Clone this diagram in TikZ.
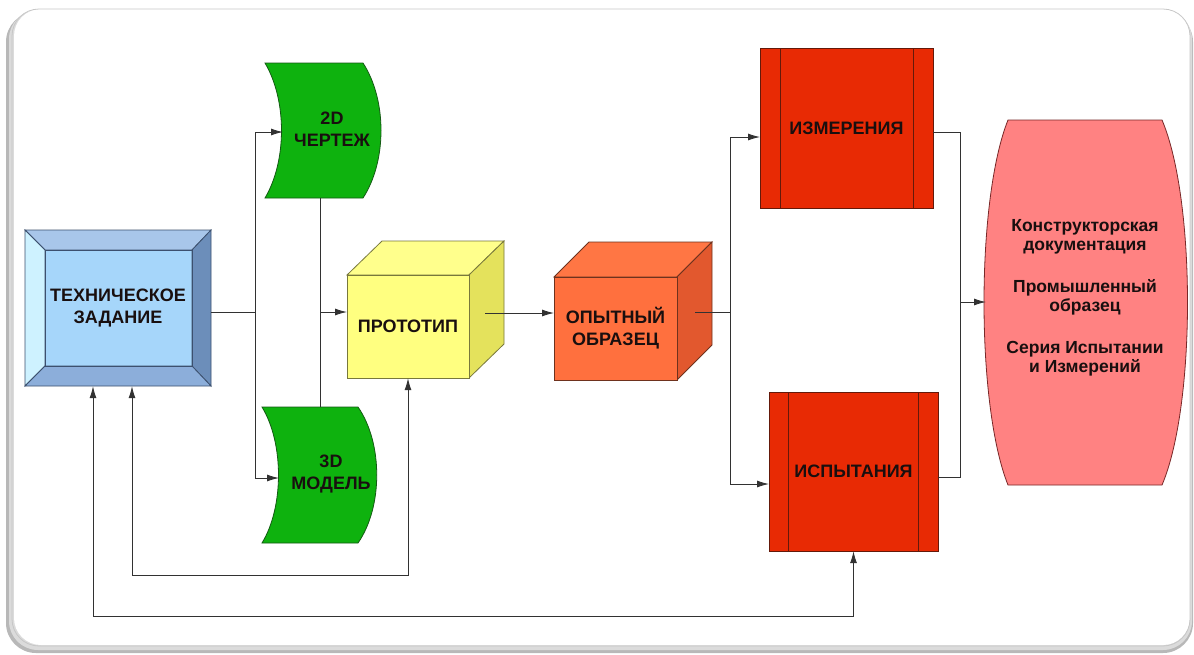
\documentclass[tikz,border=0pt]{standalone}
\usepackage{fontspec}
\setmainfont{Liberation Sans}
\usetikzlibrary{arrows.meta,calc}
\definecolor{lineC}{RGB}{50,50,50}
\definecolor{tzFace}{RGB}{166,214,250}
\definecolor{tzTop}{RGB}{168,198,234}
\definecolor{tzLeft}{RGB}{206,242,255}
\definecolor{tzRight}{RGB}{108,142,186}
\definecolor{tzBot}{RGB}{140,174,218}
\definecolor{tzLine}{RGB}{60,80,110}
\definecolor{grn}{RGB}{14,178,14}
\definecolor{grnLine}{RGB}{20,90,20}
\definecolor{yelF}{RGB}{255,255,128}
\definecolor{yelT}{RGB}{255,255,140}
\definecolor{yelS}{RGB}{228,226,92}
\definecolor{yelLine}{RGB}{120,120,60}
\definecolor{orF}{RGB}{255,112,62}
\definecolor{orT}{RGB}{255,118,68}
\definecolor{orS}{RGB}{226,88,46}
\definecolor{orLine}{RGB}{110,50,30}
\definecolor{redF}{RGB}{232,42,4}
\definecolor{redLine}{RGB}{100,25,10}
\definecolor{pinkF}{RGB}{255,130,130}
\definecolor{pinkLine}{RGB}{120,40,40}
\definecolor{txt}{RGB}{25,15,15}
\begin{document}
\begin{tikzpicture}[x=1pt,y=-1pt,
  conn/.style={draw=lineC, line width=0.9pt},
  arr/.style={conn, -{Latex[length=12pt,width=7pt]}},
  darr/.style={conn, {Latex[length=12pt,width=7pt]}-{Latex[length=12pt,width=7pt]}},
  lbl/.style={font=\bfseries\fontsize{18}{22}\selectfont, text=txt, align=center, inner sep=0pt},
  plbl/.style={font=\bfseries\fontsize{17.5}{19.5}\selectfont, text=txt, align=center, inner sep=0pt}
]
\useasboundingbox (0,0) rectangle (1194,654);
% frame
\fill[white] (0,0) rectangle (1194,654);
\fill[black!28, rounded corners=30pt] (6,12) rectangle (1193,653);
\fill[black!14, rounded corners=29pt] (9,10) rectangle (1192,650);
\fill[white, rounded corners=27pt] (14,9) rectangle (1190,645);
\draw[black!22, line width=0.8pt, rounded corners=27pt] (12,9) rectangle (1190,646);

% ---- ТЕХНИЧЕСКОЕ ЗАДАНИЕ (bevel box)
\fill[tzFace] (45,250) rectangle (192,366);
\filldraw[fill=tzTop, draw=tzLine, line width=0.8pt] (25,230) -- (211,230) -- (192,250) -- (45,250) -- cycle;
\filldraw[fill=tzLeft, draw=tzLine, line width=0.8pt] (25,230) -- (45,250) -- (45,366) -- (25,386) -- cycle;
\filldraw[fill=tzRight, draw=tzLine, line width=0.8pt] (211,230) -- (211,386) -- (192,366) -- (192,250) -- cycle;
\filldraw[fill=tzBot, draw=tzLine, line width=0.8pt] (25,386) -- (211,386) -- (192,366) -- (45,366) -- cycle;
\draw[tzLine, line width=0.8pt] (45,250) rectangle (192,366);
\node[lbl, minimum width=186pt, minimum height=156pt] (tz) at (118,308) {ТЕХНИЧЕСКОЕ\\ЗАДАНИЕ};

% ---- 2D ЧЕРТЕЖ
\filldraw[fill=grn, draw=grnLine, line width=0.8pt] (265,63) -- (363,63) .. controls (387,100) and (387,161) .. (363,198) -- (265,198) .. controls (287,161) and (287,100) .. (265,63) -- cycle;
\node[lbl, minimum width=116pt, minimum height=135pt] (d2) at (332,129) {2D\\ЧЕРТЕЖ};
% ---- 3D МОДЕЛЬ
\filldraw[fill=grn, draw=grnLine, line width=0.8pt] (262,407) -- (358,407) .. controls (383,443) and (383,507) .. (358,543) -- (262,543) .. controls (284,507) and (284,443) .. (262,407) -- cycle;
\node[lbl, minimum width=115pt, minimum height=136pt] (d3) at (331,474) {3D\\МОДЕЛЬ};

% ---- ПРОТОТИП (cube)
\filldraw[fill=yelT, draw=yelLine, line width=0.8pt] (347,275) -- (382,241) -- (504,241) -- (469,275) -- cycle;
\filldraw[fill=yelS, draw=yelLine, line width=0.8pt] (469,275) -- (504,241) -- (504,344) -- (469,378) -- cycle;
\filldraw[fill=yelF, draw=yelLine, line width=0.8pt] (347,275) rectangle (469,378);
\node[lbl, minimum width=122pt, minimum height=103pt] (pr) at (408,326.5) {ПРОТОТИП};

% ---- ОПЫТНЫЙ ОБРАЗЕЦ (cube)
\filldraw[fill=orT, draw=orLine, line width=0.8pt] (554,277) -- (589,242) -- (712,242) -- (677,277) -- cycle;
\filldraw[fill=orS, draw=orLine, line width=0.8pt] (677,277) -- (712,242) -- (712,345) -- (677,380) -- cycle;
\filldraw[fill=orF, draw=orLine, line width=0.8pt] (554,277) rectangle (677,380);
\node[lbl, minimum width=123pt, minimum height=103pt] (op) at (615.5,328.5) {ОПЫТНЫЙ\\ОБРАЗЕЦ};

% ---- ИЗМЕРЕНИЯ
\filldraw[fill=redF, draw=redLine, line width=0.8pt] (760,48) rectangle (933,208);
\draw[redLine, line width=0.8pt] (780,48) -- (780,208) (913,48) -- (913,208);
\node[lbl, minimum width=173pt, minimum height=160pt] (izm) at (846.5,128) {ИЗМЕРЕНИЯ};

% ---- ИСПЫТАНИЯ
\filldraw[fill=redF, draw=redLine, line width=0.8pt] (769,392) rectangle (938,551);
\draw[redLine, line width=0.8pt] (788,392) -- (788,551) (918,392) -- (918,551);
\node[lbl, minimum width=169pt, minimum height=159pt] (isp) at (853.5,471.5) {ИСПЫТАНИЯ};

% ---- результат (barrel)
\filldraw[fill=pinkF, draw=pinkLine, line width=0.8pt] (1008,120) -- (1162,120) .. controls (1196,200) and (1196,405) .. (1162,485) -- (1008,485) .. controls (976,405) and (976,200) .. (1008,120) -- cycle;
\node[plbl, minimum width=200pt, minimum height=365pt] (res) at (1085,298)
  {Конструкторская\\документация\\[22pt]Промышленный\\образец\\[22pt]Серия Испытании\\и Измерений};

% ---- ports
\coordinate (d2in) at (283,132);
\coordinate (d3in) at (279,478);
\coordinate (d2b) at (320,198);
\coordinate (d3t) at (320,407);
\coordinate (prin) at (347,312);
\coordinate (prout) at (485,313);
\coordinate (opin) at (554,313);
\coordinate (opout) at (695,312);
\coordinate (izmin) at (760,137);
\coordinate (ispin) at (769,484);
\coordinate (izmout) at (933,132);
\coordinate (ispout) at (938,477);
\coordinate (resin) at (986,302);

% ---- connectors
\draw[conn] ([yshift=-4pt]tz.east) -- ++(44,0) coordinate (j1);
\draw[arr] (j1) |- (d2in);
\draw[arr] (j1) |- (d3in);
\draw[conn] (d2b) -- (d3t);
\draw[arr] (d2b |- prin) -- (prin);
\draw[arr] (prout) -- (opin);
\draw[conn] (opout) -- ++(35,0) coordinate (j2);
\draw[arr] (j2) |- (izmin);
\draw[arr] (j2) |- (ispin);
\draw[conn] (izmout) -- ++(27,0) coordinate (j3) |- (ispout);
\draw[arr] (j3 |- resin) -- (resin);
\draw[darr] ([xshift=14pt]tz.south) -- ++(0,189) -| (pr.south);
\draw[darr] ([xshift=-25pt]tz.south) -- ++(0,230) -| (isp.south);
\end{tikzpicture}
\end{document}
